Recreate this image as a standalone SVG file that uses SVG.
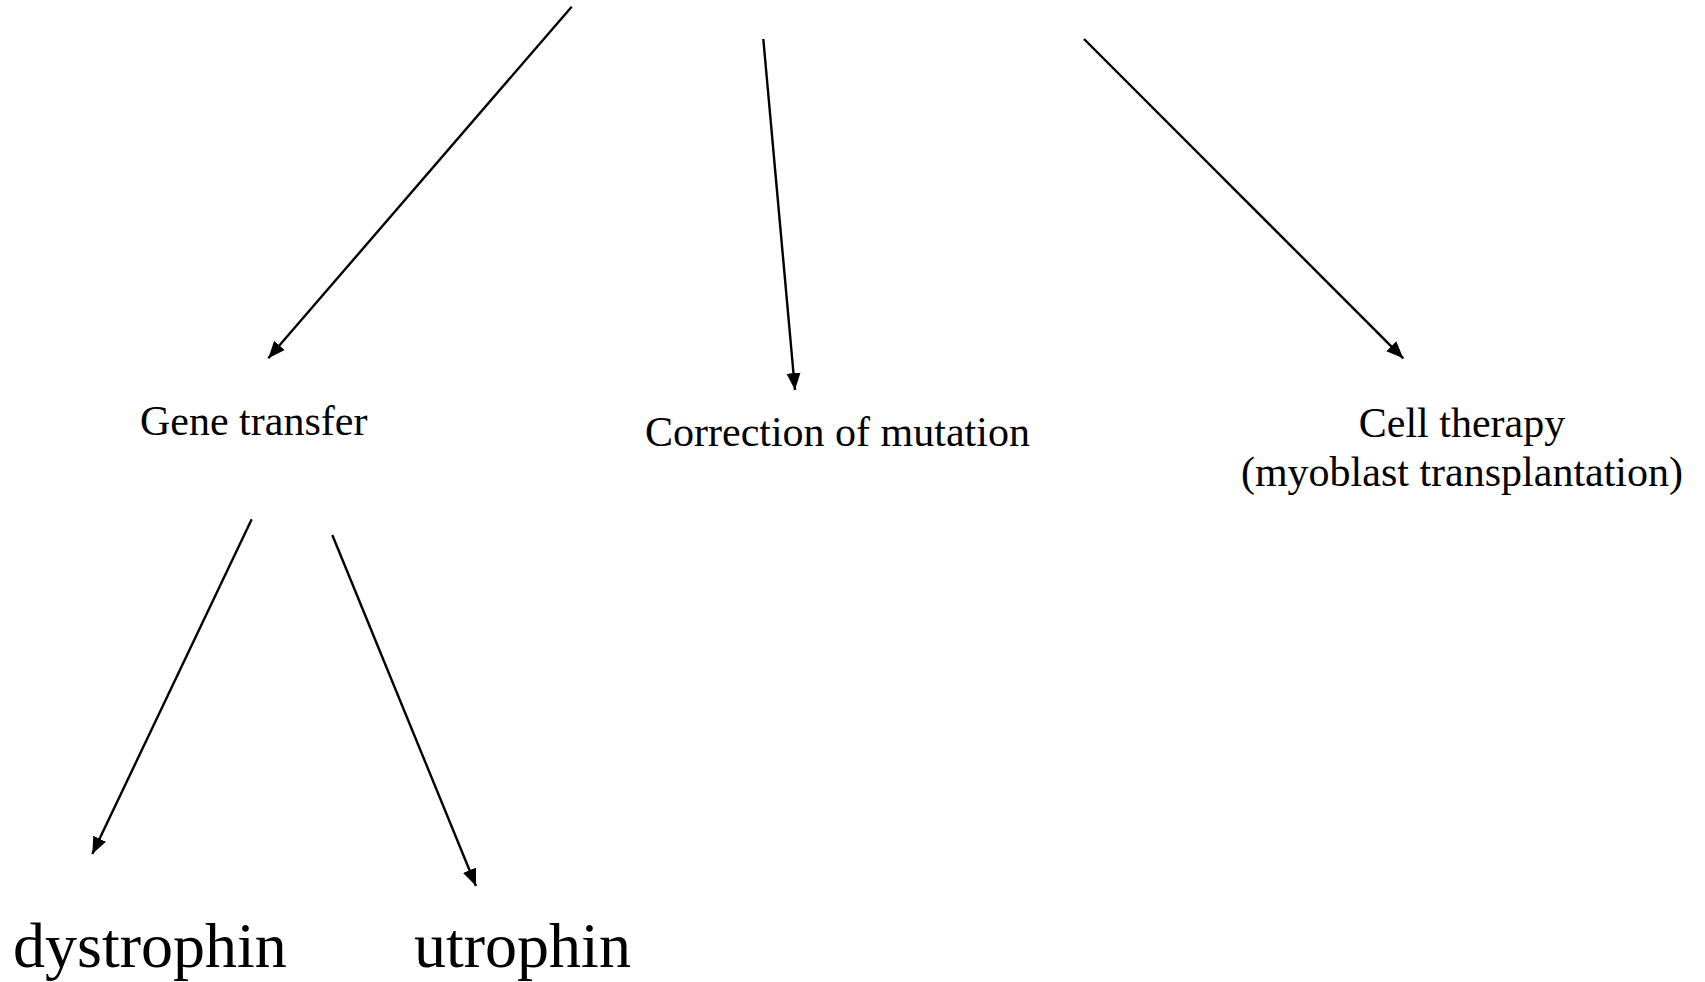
<svg xmlns="http://www.w3.org/2000/svg" width="1705" height="982" viewBox="0 0 1705 982">
<defs>
<style>
.lbl{font-family:"Liberation Serif","Times New Roman",serif;fill:#000;}
.m{font-size:42px;}
.b{font-size:64px;}
.c{stroke:#000;stroke-width:2.4;fill:none;marker-end:url(#ah);}
</style>
<marker id="ah" markerUnits="userSpaceOnUse" markerWidth="19" markerHeight="15" refX="17" refY="7" orient="auto" viewBox="0 0 19 14">
<path d="M0,0 L17,7 L0,14 z" fill="#000"/>
</marker>
</defs>
<rect width="1705" height="982" fill="#fff"/>
<g id="connectors">
<line class="c" x1="571.7" y1="6.7" x2="268.3" y2="358.3"/>
<line class="c" x1="763.3" y1="39" x2="795" y2="390"/>
<line class="c" x1="1084" y1="39" x2="1403.3" y2="358.3"/>
<line class="c" x1="251.7" y1="519.3" x2="92.3" y2="854"/>
<line class="c" x1="332.3" y1="535" x2="476" y2="886"/>
</g>
<g id="gene-transfer"><text class="lbl m" x="140" y="435">Gene transfer</text></g>
<g id="correction"><text class="lbl m" x="645" y="446">Correction of mutation</text></g>
<g id="cell-therapy">
<text class="lbl m" x="1462" y="437" text-anchor="middle">Cell therapy</text>
<text class="lbl m" x="1462" y="486" text-anchor="middle">(myoblast transplantation)</text>
</g>
<g id="dystrophin"><text class="lbl b" x="13" y="967">dystrophin</text></g>
<g id="utrophin"><text class="lbl b" x="414" y="967">utrophin</text></g>
</svg>
